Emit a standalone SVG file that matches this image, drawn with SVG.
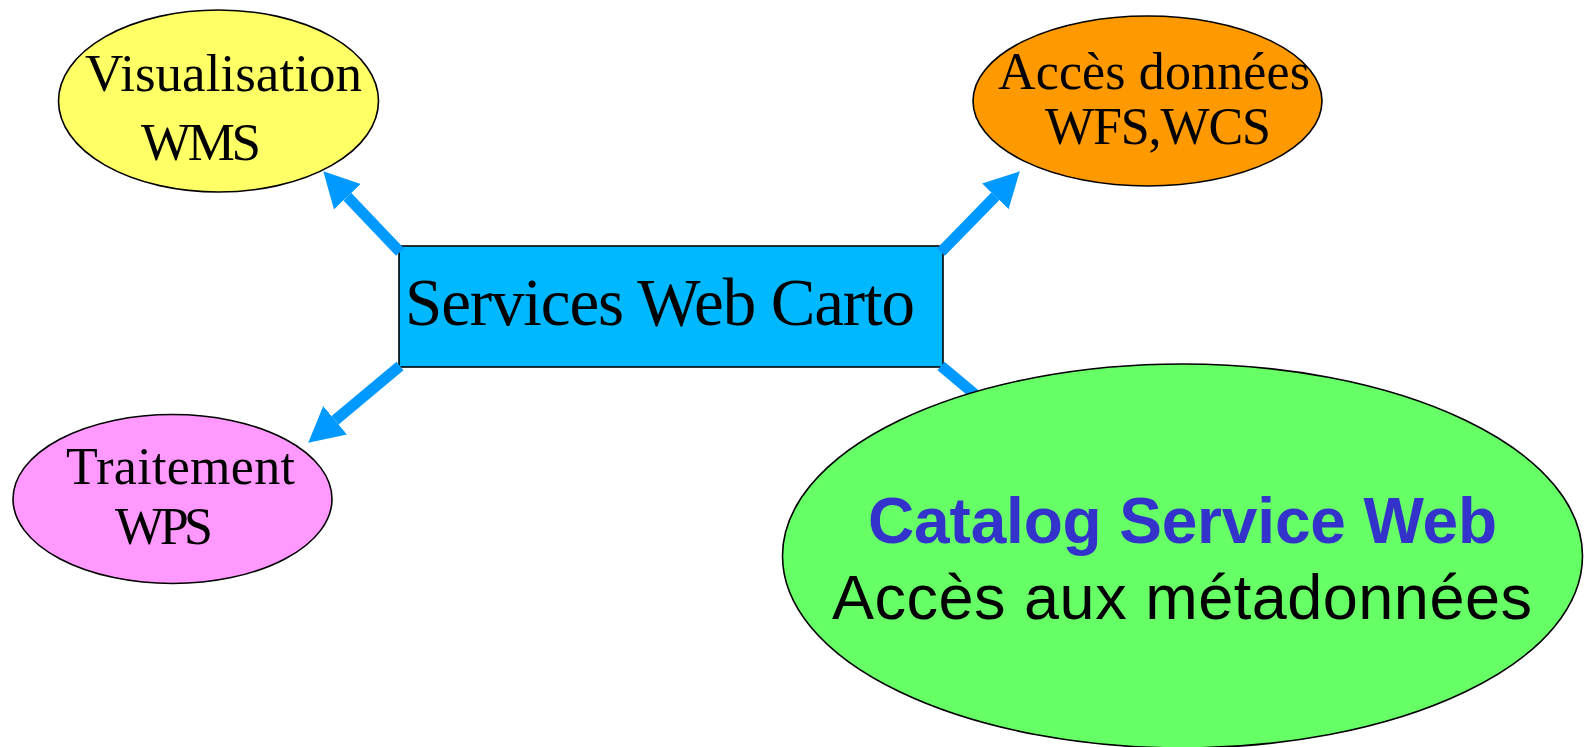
<svg xmlns="http://www.w3.org/2000/svg" width="1586" height="747" viewBox="0 0 1586 747">
<style>
.node{stroke:#000;stroke-width:1.6}
.serif{font-family:"Liberation Serif","Times New Roman",serif;fill:#000}
.sans{font-family:"Liberation Sans",Arial,sans-serif}
.conn{stroke:#0099ff;stroke-width:11;fill:none}
</style>
<defs>
<marker id="ah" markerUnits="userSpaceOnUse" markerWidth="35" markerHeight="37" viewBox="0 0 35 37" refX="0" refY="18.5" orient="auto">
<path d="M0,0 L35,18.5 L0,37 z" fill="#0099ff"/>
</marker>
</defs>
<rect width="1586" height="747" fill="#fff"/>
<g id="n-visualisation">
<ellipse class="node" cx="218.5" cy="101" rx="160" ry="91" fill="#ffff66"/>
<text class="serif" x="85" y="91" font-size="53" textLength="277">Visualisation</text>
<text class="serif" x="141" y="160" font-size="53" textLength="120">WMS</text>
</g>
<g id="n-acces">
<ellipse class="node" cx="1147.5" cy="101" rx="174.5" ry="85" fill="#ff9900"/>
<text class="serif" x="998" y="89" font-size="52" textLength="312">Accès données</text>
<text class="serif" x="1045" y="144" font-size="52" textLength="226">WFS,WCS</text>
</g>
<g id="n-traitement">
<ellipse class="node" cx="172.5" cy="499" rx="159.5" ry="84.5" fill="#ff99ff"/>
<text class="serif" x="66" y="484" font-size="52" textLength="229">Traitement</text>
<text class="serif" x="115" y="544" font-size="52" textLength="98">WPS</text>
</g>
<g id="n-services">
<rect class="node" x="399" y="246" width="544" height="121" fill="#00b8ff"/>
<text class="serif" x="405" y="325" font-size="67" textLength="510">Services Web Carto</text>
</g>
<g id="connectors">
<line class="conn" x1="400" y1="252" x2="347.4" y2="196.7" marker-end="url(#ah)"/>
<line class="conn" x1="941" y1="252" x2="995.3" y2="196.4" marker-end="url(#ah)"/>
<line class="conn" x1="400" y1="366" x2="335.1" y2="420.2" marker-end="url(#ah)"/>
<line class="conn" x1="941" y1="366" x2="990" y2="407" marker-end="url(#ah)"/>
</g>
<g id="n-catalog">
<ellipse class="node" cx="1182.5" cy="556" rx="400" ry="192" fill="#66ff66"/>
<text class="sans" x="868" y="543" font-size="64" font-weight="bold" fill="#3333cc" textLength="629">Catalog Service Web</text>
<text class="sans" x="832" y="619" font-size="63" fill="#000" textLength="700">Accès aux métadonnées</text>
</g>
</svg>
